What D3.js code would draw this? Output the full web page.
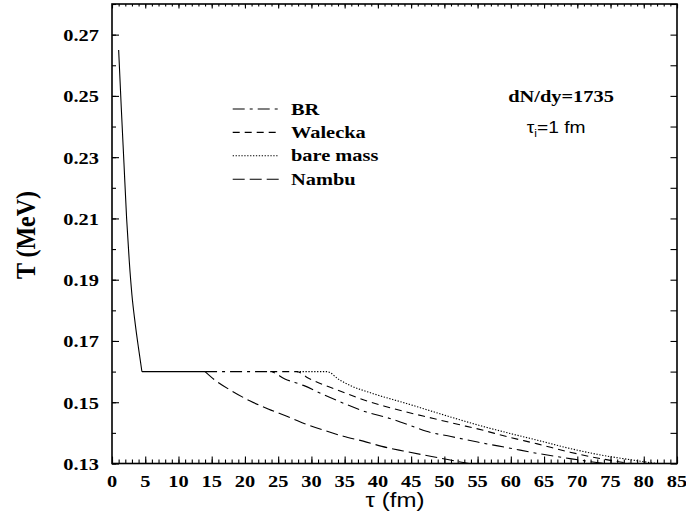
<!DOCTYPE html>
<html>
<head>
<meta charset="utf-8">
<script src="https://cdn.jsdelivr.net/npm/d3@7"></script>
<style>
  html, body { margin: 0; padding: 0; background: #fff; }
  svg { display: block; }
</style>
</head>
<body>
<svg id="chart" width="686" height="521"></svg>
<script>
// ---------------- DATA ----------------
const xTickLabels = [0, 5, 10, 15, 20, 25, 30, 35, 40, 45, 50, 55, 60, 65, 70, 75, 80, 85];
const yTickLabels = ["0.13", "0.15", "0.17", "0.19", "0.21", "0.23", "0.25", "0.27"];

// common early stage (solid)
const tauSolid = [1, 1.4, 1.8, 2.2, 2.6, 3.0, 3.5, 4.0, 4.5];
const tSolid   = [0.265, 0.246, 0.228, 0.210, 0.196, 0.185, 0.1755, 0.1675, 0.160];
const tauPlateau = [4.5, 14];
const tPlateau   = [0.160, 0.160];

// Nambu
const tauNambu = [14, 15.5, 18, 20.8, 23.5, 26.3, 29, 31.8, 34.8, 37.8, 40.6, 43.8, 46.6, 49.3, 52.4, 54];
const tNambu   = [0.160, 0.1572, 0.1537, 0.1504, 0.1478, 0.1454, 0.1430, 0.1409, 0.1389, 0.1373, 0.1356, 0.1341, 0.1329, 0.1318, 0.1305, 0.1299];

// BR
const tauBR = [14, 23.8, 26, 28.8, 31.8, 34.8, 38, 41.8, 45, 47.3, 51, 55, 59.9, 64, 68.9, 72, 75];
const tBR   = [0.160, 0.160, 0.1576, 0.1555, 0.1525, 0.1497, 0.1470, 0.1447, 0.1423, 0.1405, 0.1388, 0.1370, 0.1350, 0.1333, 0.1316, 0.1306, 0.1298];

// Walecka
const tauWalecka = [23.8, 27.8, 29.5, 31.8, 34.3, 37.8, 41, 44.3, 46.8, 52, 55, 59.9, 64, 68.9, 73, 78.5];
const tWalecka   = [0.160, 0.160, 0.1579, 0.1557, 0.1537, 0.1508, 0.1487, 0.1468, 0.1455, 0.1428, 0.1413, 0.1385, 0.1364, 0.1337, 0.1318, 0.1298];

// bare mass
const tauBare = [27.8, 32.3, 34.3, 35.8, 39, 44.3, 50, 55, 59.9, 64, 68.9, 73, 78.4, 82.5];
const tBare   = [0.160, 0.160, 0.1572, 0.1555, 0.1530, 0.1496, 0.1458, 0.1426, 0.1398, 0.1376, 0.1349, 0.1330, 0.1311, 0.1298];

const legendNames = ["BR", "Walecka", "bare mass", "Nambu"];

// ---------------- LAYOUT ----------------
const svg = d3.select("#chart");
const L = 112, R = 677, T = 4, B = 463.5;
const x = d3.scaleLinear().domain([0, 85]).range([L, R]);
const y = d3.scaleLinear().domain([0.13, 0.28]).range([B, T]);

const SERIF = "'Liberation Serif', 'Times New Roman', serif";
const SANS = "'Liberation Sans', Arial, Helvetica, sans-serif";
const SX = 1.2;

function stxt(g, px, py, s, size, family, weight, anchor) {
  return g.append("text")
    .attr("transform", `translate(${px},${py}) scale(${SX},1)`)
    .attr("text-anchor", anchor)
    .attr("font-family", family)
    .attr("font-weight", weight)
    .attr("font-size", size)
    .attr("fill", "#000")
    .text(s);
}

svg.append("defs").append("clipPath").attr("id", "clip")
  .append("rect").attr("x", L).attr("y", T).attr("width", R - L).attr("height", B - T);

// ---------------- AXES (ticks inside) ----------------
const xMinor = d3.range(0, 86, 1);
const yMinor = d3.range(0, 16).map(i => 0.13 + i * 0.01);
const xMajorVals = xTickLabels.slice();
const yMajorVals = yTickLabels.map(Number);

function styleAxis(g) {
  g.select(".domain").remove();
  g.selectAll("line").attr("stroke", "#000").attr("stroke-width", 1.1);
  g.selectAll("text").remove();
}

// bottom
svg.append("g").attr("transform", `translate(0,${B})`)
  .call(d3.axisBottom(x).tickValues(xMinor).tickSize(-4).tickFormat("")).call(styleAxis);
svg.append("g").attr("transform", `translate(0,${B})`)
  .call(d3.axisBottom(x).tickValues(xMajorVals).tickSize(-7).tickFormat("")).call(styleAxis);
// top
svg.append("g").attr("transform", `translate(0,${T})`)
  .call(d3.axisTop(x).tickValues(xMinor).tickSize(-2.5).tickFormat("")).call(styleAxis);
svg.append("g").attr("transform", `translate(0,${T})`)
  .call(d3.axisTop(x).tickValues(xMajorVals).tickSize(-4.5).tickFormat("")).call(styleAxis);
// left
svg.append("g").attr("transform", `translate(${L},0)`)
  .call(d3.axisLeft(y).tickValues(yMinor).tickSize(-4).tickFormat("")).call(styleAxis);
svg.append("g").attr("transform", `translate(${L},0)`)
  .call(d3.axisLeft(y).tickValues(yMajorVals).tickSize(-7).tickFormat("")).call(styleAxis);
// right
svg.append("g").attr("transform", `translate(${R},0)`)
  .call(d3.axisRight(y).tickValues(yMinor).tickSize(-6.5).tickFormat("")).call(styleAxis);

// frame
svg.append("rect").attr("x", L).attr("y", T).attr("width", R - L).attr("height", B - T)
  .attr("fill", "none").attr("stroke", "#000").attr("stroke-width", 1.6);

// tick labels
const lbl = svg.append("g");
xTickLabels.forEach(v => stxt(lbl, x(v), 487, String(v), 17, SERIF, "bold", "middle"));
yTickLabels.forEach(s => stxt(lbl, 99, y(+s) + 6.5, s, 17, SERIF, "bold", "end"));

// axis titles
stxt(svg, 395, 507, "τ (fm)", 20, SANS, "normal", "middle");
svg.append("text")
  .attr("transform", "translate(35,235) rotate(-90) scale(1,1.1)")
  .attr("text-anchor", "middle")
  .attr("font-family", SERIF).attr("font-weight", "bold").attr("font-size", 24)
  .text("T (MeV)");

// ---------------- CURVES ----------------
const plot = svg.append("g").attr("clip-path", "url(#clip)");
function drawCurve(taus, ts, dash, curve) {
  const pts = taus.map((t, i) => [t, ts[i]]);
  const line = d3.line().x(d => x(d[0])).y(d => y(d[1])).curve(curve || d3.curveMonotoneX);
  plot.append("path").attr("d", line(pts))
    .attr("fill", "none").attr("stroke", "#000").attr("stroke-width", 1.1)
    .attr("stroke-dasharray", dash);
}
const dashes = { BR: "12,5,3,5", Walecka: "7,5", "bare mass": "1.3,1.6", Nambu: "12,5" };

drawCurve(tauSolid, tSolid, null);
drawCurve(tauPlateau, tPlateau, null, d3.curveLinear);
drawCurve(tauNambu, tNambu, dashes.Nambu);
drawCurve(tauBR, tBR, dashes.BR);
drawCurve(tauWalecka, tWalecka, dashes.Walecka);
drawCurve(tauBare, tBare, dashes["bare mass"]);

// ---------------- LEGEND ----------------
const leg = svg.append("g");
legendNames.forEach((name, i) => {
  const ly = 109 + i * 23.4;
  leg.append("line").attr("x1", 232.7).attr("x2", 279).attr("y1", ly).attr("y2", ly)
    .attr("stroke", "#000").attr("stroke-width", 1.1).attr("stroke-dasharray", dashes[name]);
  stxt(leg, 291, ly + 5.5, name, 17, SERIF, "bold", "start");
});

// ---------------- ANNOTATIONS ----------------
stxt(svg, 561, 101.7, "dN/dy=1735", 17, SERIF, "bold", "middle");
const ti = svg.append("text")
  .attr("transform", `translate(526.7,133.3) scale(${SX},1)`)
  .attr("font-family", SANS).attr("font-size", 16).attr("fill", "#000");
ti.append("tspan").text("τ");
ti.append("tspan").attr("font-size", 10).attr("dy", 4).text("i");
ti.append("tspan").attr("dy", -4).text("=1 fm");
</script>
</body>
</html>
